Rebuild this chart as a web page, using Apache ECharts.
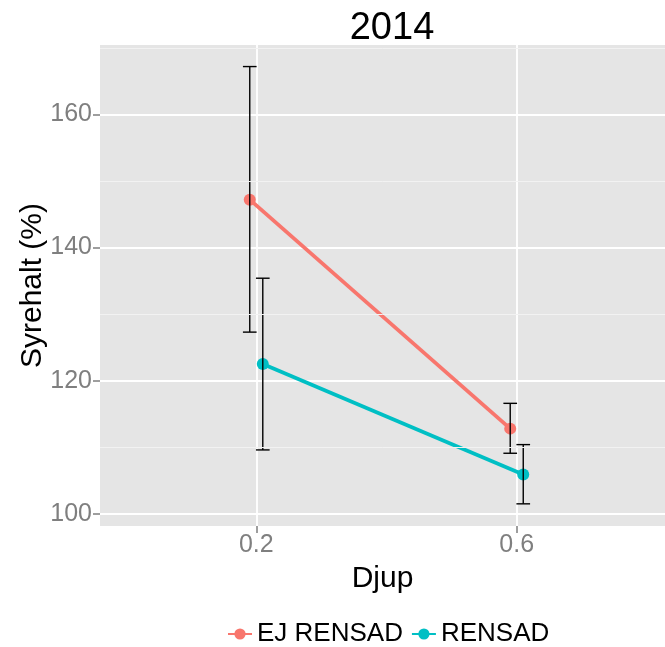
<!DOCTYPE html>
<html>
<head>
<meta charset="utf-8">
<script src="https://cdn.jsdelivr.net/npm/echarts@6/dist/echarts.min.js"></script>
<style>html,body{margin:0;padding:0;background:#fff}#c{width:665px;height:647px}</style>
</head>
<body>
<div id="c"></div>
<script>
const title = '2014';
const groups = ['EJ RENSAD', 'RENSAD'];
const colors = ['#F8766D', '#00BFC4'];
const xTicks = [0.2, 0.6];
const yTicks = [100, 120, 140, 160];
const yMinor = [110, 130, 150, 170];
// dodged x positions
const xEj = [0.19, 0.59];
const xRen = [0.21, 0.61];
const meanEj = [147.2, 112.8];
const lowEj = [127.3, 109.1];
const highEj = [167.2, 116.6];
const meanRen = [122.5, 105.9];
const lowRen = [109.6, 101.5];
const highRen = [135.4, 110.4];

const font = 'Liberation Sans, Arial, sans-serif';
const chart = echarts.init(document.getElementById('c'));

function errData(xs, lo, hi) {
  return xs.map((x, i) => [x, lo[i], hi[i]]);
}
function errRender(params, api) {
  const x = api.value(0), lo = api.value(1), hi = api.value(2);
  const pLo = api.coord([x, lo]);
  const pHi = api.coord([x, hi]);
  const l = api.coord([x - 0.0105, lo])[0];
  const r = api.coord([x + 0.0105, lo])[0];
  const st = { stroke: '#000', lineWidth: 1.4 };
  return {
    type: 'group',
    children: [
      { type: 'line', shape: { x1: pLo[0], y1: pLo[1], x2: pHi[0], y2: pHi[1] }, style: st },
      { type: 'line', shape: { x1: l, y1: pLo[1], x2: r, y2: pLo[1] }, style: st },
      { type: 'line', shape: { x1: l, y1: pHi[1], x2: r, y2: pHi[1] }, style: st }
    ]
  };
}

chart.setOption({
  animation: false,
  title: {
    text: title, left: 387, top: 5, textAlign: 'center',
    textStyle: { fontFamily: font, fontSize: 38, fontWeight: 'normal', color: '#000' }
  },
  grid: {
    left: 100, top: 45, bottom: 121, right: 0,
    show: true, backgroundColor: '#E5E5E5', borderWidth: 0
  },
  legend: {
    top: 616, left: 222,
    data: groups,
    itemWidth: 24, itemHeight: 14, itemGap: 8,
    textStyle: { fontFamily: font, fontSize: 26, color: '#000' }
  },
  xAxis: {
    type: 'value', min: -0.04, max: 0.8277,
    name: 'Djup', nameLocation: 'middle', nameGap: 38, nameMoveOverlap: false,
    nameTextStyle: { fontFamily: font, fontSize: 30, color: '#000' },
    axisLine: { show: false, onZero: false },
    axisTick: { show: true, length: 7, customValues: xTicks, lineStyle: { color: '#7F7F7F', width: 1.5 } },
    axisLabel: { customValues: xTicks, margin: 7, fontFamily: font, fontSize: 25, color: '#7F7F7F', formatter: v => String(v) },
    splitLine: { show: true, lineStyle: { color: '#FFFFFF', width: 1.8 } }
  },
  yAxis: {
    type: 'value', min: 98.17, max: 170.44,
    name: 'Syrehalt (%)', nameLocation: 'middle', nameGap: 52, nameMoveOverlap: false,
    nameTextStyle: { fontFamily: font, fontSize: 30, color: '#000' },
    axisLine: { show: false, onZero: false },
    axisTick: { show: true, length: 7, customValues: yTicks, lineStyle: { color: '#7F7F7F', width: 1.5 } },
    axisLabel: { customValues: yTicks, margin: 8, fontFamily: font, fontSize: 25, color: '#7F7F7F' },
    splitLine: { show: true, lineStyle: { color: '#FFFFFF', width: 1.8 } }
  },
  series: [
    {
      name: 'minor', type: 'line', data: [], z: 1, silent: true,
      markLine: {
        silent: true, symbol: 'none', label: { show: false },
        lineStyle: { color: '#F2F2F2', width: 1, type: 'solid' },
        data: yMinor.map(v => ({ yAxis: v }))
      }
    },
    {
      name: groups[0], type: 'line', color: colors[0], z: 3,
      data: xEj.map((x, i) => [x, meanEj[i]]),
      symbol: 'circle', symbolSize: 12,
      lineStyle: { width: 3.8 }
    },
    {
      name: groups[1], type: 'line', color: colors[1], z: 3,
      data: xRen.map((x, i) => [x, meanRen[i]]),
      symbol: 'circle', symbolSize: 12,
      lineStyle: { width: 3.8 }
    },
    {
      name: 'errEj', type: 'custom', z: 4, renderItem: errRender,
      data: errData(xEj, lowEj, highEj), encode: { x: 0, y: [1, 2] }
    },
    {
      name: 'errRen', type: 'custom', z: 4, renderItem: errRender,
      data: errData(xRen, lowRen, highRen), encode: { x: 0, y: [1, 2] }
    }
  ]
});
</script>
</body>
</html>
